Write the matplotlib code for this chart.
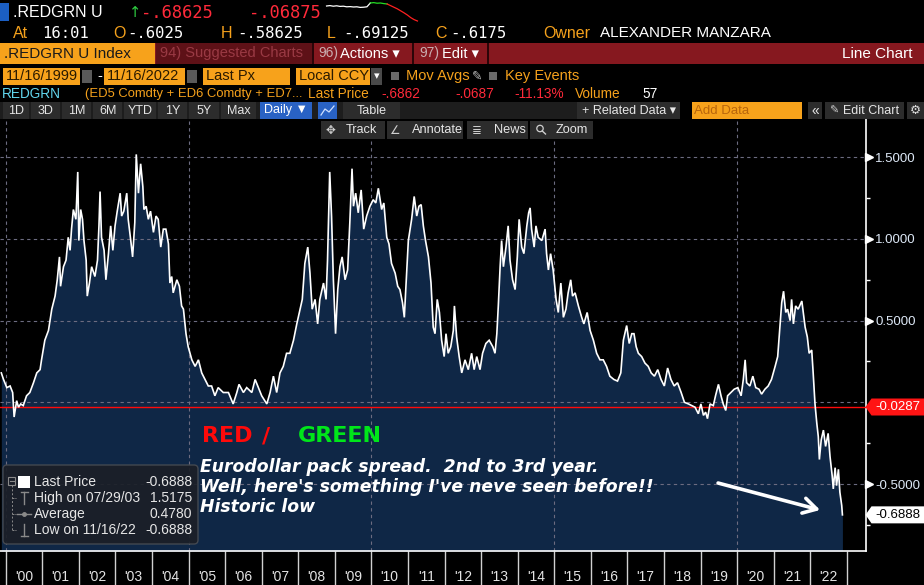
import matplotlib
matplotlib.use('Agg')
import matplotlib.pyplot as plt
from matplotlib.patches import Rectangle, Polygon, FancyBboxPatch, Circle
from matplotlib.transforms import blended_transform_factory

# ---------------- data ----------------
dates = [
    1999.88, 1999.94, 2000.03, 2000.12, 2000.19, 2000.23, 2000.30, 2000.35, 2000.41, 2000.48,
    2000.57, 2000.66, 2000.76, 2000.85, 2000.94, 2000.98, 2001.07, 2001.17, 2001.26, 2001.35,
    2001.41, 2001.47, 2001.50, 2001.58, 2001.65, 2001.71, 2001.76, 2001.80, 2001.85, 2001.92,
    2001.97, 2002.00, 2002.05, 2002.10, 2002.14, 2002.20, 2002.23, 2002.29, 2002.35, 2002.44,
    2002.51, 2002.55, 2002.58, 2002.62, 2002.69, 2002.74, 2002.81, 2002.87, 2002.93, 2002.99,
    2003.05, 2003.13, 2003.17, 2003.23, 2003.31, 2003.35, 2003.42, 2003.47, 2003.53, 2003.57,
    2003.63, 2003.69, 2003.75, 2003.78, 2003.84, 2003.90, 2003.96, 2004.04, 2004.11, 2004.17,
    2004.24, 2004.31, 2004.38, 2004.45, 2004.49, 2004.54, 2004.58, 2004.68, 2004.75, 2004.81,
    2004.86, 2004.93, 2004.99, 2005.09, 2005.18, 2005.27, 2005.36, 2005.45, 2005.54, 2005.63,
    2005.72, 2005.81,
    2005.95, 2006.09, 2006.22, 2006.32, 2006.38, 2006.50, 2006.59, 2006.73, 2006.82, 2006.91,
    2007.00, 2007.14, 2007.23, 2007.32, 2007.41, 2007.50, 2007.59, 2007.68, 2007.77, 2007.87,
    2007.96, 2008.05, 2008.11, 2008.18, 2008.26, 2008.32, 2008.38, 2008.46, 2008.53, 2008.59,
    2008.69, 2008.76, 2008.80, 2008.86, 2008.91, 2008.96, 2009.02, 2009.08, 2009.14, 2009.20,
    2009.28, 2009.35, 2009.41, 2009.47, 2009.51, 2009.57, 2009.64, 2009.72, 2009.79, 2009.87,
    2009.96, 2010.05, 2010.12, 2010.19, 2010.28, 2010.34, 2010.42, 2010.48, 2010.55, 2010.65,
    2010.72, 2010.78, 2010.85, 2010.90, 2010.95, 2011.01, 2011.10, 2011.17, 2011.24, 2011.30,
    2011.36, 2011.42, 2011.48, 2011.56, 2011.63, 2011.69,
    2011.74, 2011.80, 2011.86, 2011.92, 2011.99, 2012.04, 2012.10, 2012.17, 2012.24, 2012.27,
    2012.33, 2012.40, 2012.47, 2012.56, 2012.65, 2012.74, 2012.81, 2012.88, 2012.97, 2013.04,
    2013.13, 2013.22, 2013.32, 2013.38, 2013.43, 2013.47, 2013.52, 2013.56, 2013.61, 2013.68,
    2013.74, 2013.79, 2013.86, 2013.93, 2013.99, 2014.04, 2014.11, 2014.17, 2014.25, 2014.30,
    2014.34, 2014.38, 2014.45, 2014.50, 2014.56, 2014.66, 2014.75, 2014.79, 2014.84, 2014.90,
    2014.97, 2015.05, 2015.11, 2015.18, 2015.25, 2015.32, 2015.38, 2015.45, 2015.50, 2015.57,
    2015.66, 2015.75, 2015.81, 2015.90, 2015.98, 2016.07, 2016.16, 2016.25, 2016.34, 2016.43,
    2016.52, 2016.63, 2016.73, 2016.82, 2016.89, 2016.98, 2017.05, 2017.12, 2017.18, 2017.24,
    2017.30, 2017.39, 2017.48, 2017.57,
    2017.65, 2017.74, 2017.83, 2017.92, 2018.01, 2018.10, 2018.19, 2018.28, 2018.37, 2018.47,
    2018.56, 2018.67, 2018.76, 2018.85, 2018.94, 2019.01, 2019.08, 2019.14, 2019.19, 2019.26,
    2019.35, 2019.41, 2019.49, 2019.56, 2019.62, 2019.69, 2019.74, 2019.83, 2019.92, 2020.02,
    2020.11, 2020.17, 2020.22, 2020.26, 2020.35, 2020.43, 2020.51, 2020.60, 2020.67, 2020.76,
    2020.85, 2020.94, 2021.04, 2021.11, 2021.17, 2021.22, 2021.27, 2021.33, 2021.38, 2021.45,
    2021.49, 2021.54, 2021.60, 2021.67, 2021.77, 2021.81, 2021.86, 2021.92, 2021.97, 2022.04,
    2022.08, 2022.13, 2022.18,
    2022.22, 2022.25, 2022.30, 2022.36, 2022.42, 2022.49, 2022.54, 2022.60, 2022.63, 2022.68,
    2022.72, 2022.77, 2022.81, 2022.86, 2022.88,
]
values = [
    0.18, 0.14, 0.09, 0.10, 0.06, -0.09, 0.01, -0.03, -0.01, -0.02,
    0.04, 0.06, 0.12, 0.18, 0.20, 0.26, 0.38, 0.44, 0.57, 0.65,
    0.75, 0.89, 0.71, 0.83, 0.87, 1.01, 0.93, 1.06, 1.18, 1.12,
    1.41, 0.99, 1.18, 1.12, 0.99, 0.87, 0.65, 0.73, 0.83, 0.77,
    0.87, 1.08, 1.29, 1.01, 0.93, 0.75, 0.91, 1.08, 0.93, 1.08,
    1.17, 1.28, 1.14, 1.17, 1.28, 1.12, 0.99, 0.89, 1.10, 1.5175,
    1.28, 1.46, 1.32, 1.18, 1.20, 1.12, 1.17, 1.04, 1.14, 1.12,
    0.95, 1.06, 1.06, 0.97, 0.73, 0.77, 0.67, 0.75, 0.71, 0.59,
    0.57, 0.42, 0.34, 0.26, 0.22, 0.26, 0.18, 0.14, 0.10, 0.10,
    0.04, 0.09,
    0.06, 0.06, -0.01, 0.06, 0.11, 0.06, 0.09, 0.06, 0.14, 0.09,
    0.04, -0.01, 0.06, 0.16, 0.06, 0.18, 0.22, 0.30, 0.30, 0.38,
    0.48, 0.57, 0.63, 0.85, 0.95, 0.79, 0.57, 0.63, 0.48, 0.63,
    0.73, 0.63, 0.87, 1.41, 1.14, 0.75, 0.42, 0.69, 0.83, 0.89,
    0.75, 0.81, 1.10, 1.43, 1.20, 1.28, 1.16, 1.30, 1.06, 1.14,
    1.20, 1.24, 1.22, 1.31, 1.18, 1.22, 1.01, 0.97, 0.85, 0.79,
    0.71, 0.69, 0.61, 0.52, 0.73, 0.99, 1.12, 1.26, 1.14, 1.20,
    1.21, 1.08, 0.99, 0.89, 0.73, 0.46,
    0.42, 0.63, 0.55, 0.38, 0.28, 0.42, 0.30, 0.34, 0.44, 0.59,
    0.40, 0.28, 0.18, 0.26, 0.20, 0.30, 0.20, 0.28, 0.20, 0.30,
    0.36, 0.38, 0.34, 0.30, 0.42, 0.59, 0.83, 0.99, 0.83, 0.95,
    1.08, 0.87, 0.75, 0.69, 0.89, 1.12, 0.95, 0.91, 1.08, 1.16,
    1.19, 1.06, 0.95, 1.08, 1.01, 0.99, 1.06, 0.91, 0.81, 0.91,
    0.81, 0.63, 0.55, 0.73, 0.52, 0.57, 0.67, 0.75, 0.65, 0.67,
    0.59, 0.52, 0.48, 0.55, 0.44, 0.38, 0.30, 0.26, 0.26, 0.22,
    0.16, 0.14, 0.13, 0.18, 0.38, 0.47, 0.36, 0.42, 0.42, 0.34,
    0.30, 0.28, 0.24, 0.22,
    0.18, 0.16, 0.20, 0.14, 0.10, 0.21, 0.14, 0.10, 0.12, 0.06,
    0.00, -0.01, -0.02, -0.03, -0.07, -0.01, -0.08, -0.06, -0.10, -0.01,
    -0.02, 0.04, 0.11, 0.04, -0.01, -0.05, 0.04, 0.06, 0.08, 0.09,
    0.04, 0.14, 0.26, 0.12, 0.10, 0.16, 0.09, 0.08, 0.05, 0.08,
    0.10, 0.14, 0.22, 0.28, 0.46, 0.61, 0.68, 0.55, 0.57, 0.50,
    0.63, 0.48, 0.59, 0.57, 0.62, 0.55, 0.46, 0.40, 0.30, 0.32,
    0.18, -0.01, -0.13,
    -0.21, -0.35, -0.23, -0.17, -0.27, -0.19, -0.33, -0.45, -0.53, -0.40,
    -0.51, -0.41, -0.55, -0.63, -0.6888,
]
year_starts = list(range(2000, 2024))
year_labels = ["'%02d" % (y % 100) for y in range(2000, 2023)]
right_ticks = [1.5, 1.0, 0.5, -0.5]
right_minor = [1.25, 0.75, 0.25, -0.25, -0.75]
grid_y = [1.5, 1.0, 0.5, 0.0, -0.5]
grid_x = [2000, 2005, 2010, 2015, 2020]
last_line = -0.0287
last_value = -0.6888
legend_labels = ["Last Price", "High on 07/29/03", "Average", "Low on 11/16/22"]
legend_values = ["-0.6888", "1.5175", "0.4780", "-0.6888"]
arrow_from = (2019.48, -0.494)
arrow_to = (2022.27, -0.659)
spark_white = [0.80, 0.82, 0.79, 0.81, 0.78, 0.79, 0.76, 0.77, 0.75, 0.76, 0.73, 0.74, 0.76, 0.95]
spark_green = [0.95, 0.97, 0.94, 0.95, 0.92, 0.90]
spark_red = [0.90, 0.82, 0.74, 0.66, 0.56, 0.46, 0.35, 0.22, 0.12, 0.05]

# ---------------- style ----------------
plt.rcParams['font.family'] = ['Liberation Sans', 'DejaVu Sans']
ORANGE = '#f5a11c'
BOXOR = '#f7a21b'
RED = '#ff2a3a'
FILL = '#0f2746'
GRID = '#6c6c80'
BTN = '#2c2c2c'
MONO = ['DejaVu Sans Mono']

W, H = 924, 585
fig = plt.figure(figsize=(W / 100, H / 100), dpi=100, facecolor='black')

PL, PR, PB, PT = 0, 865.5, 551, 119
ax = fig.add_axes([PL / W, 1 - PB / H, (PR - PL) / W, (PB - PT) / H])
ax.set_facecolor('black')
X0, X1 = 1999.844, 2023.511
Y0, Y1 = -0.910, 1.734
ax.set_xlim(X0, X1)
ax.set_ylim(Y0, Y1)

ax.fill_between(dates, values, Y0, color=FILL, lw=0, zorder=1)
for gy in grid_y:
    ax.axhline(gy, color=GRID, lw=0.8, ls=(0, (3, 3)), zorder=2)
for gx in grid_x:
    ax.axvline(gx, color=GRID, lw=0.8, ls=(0, (3, 3)), zorder=2)
ax.axhline(last_line, color='#ff0a0a', lw=1.0, zorder=3)
ax.plot(dates, values, color='white', lw=1.2, zorder=4, solid_joinstyle='miter')

for s in ['top', 'left']:
    ax.spines[s].set_visible(False)
for s in ['right', 'bottom']:
    ax.spines[s].set_color('white')
    ax.spines[s].set_linewidth(1.2)

ax.set_xticks([y + 0.5 for y in range(2000, 2023)], year_labels)
ax.set_xticks(year_starts, minor=True)
ax.tick_params(axis='x', which='major', length=0, pad=14, labelcolor='#e4e4e4', labelsize=10)
ax.tick_params(axis='x', which='minor', length=24.5, width=1, color='#d0d0d0', direction='out')

ax.yaxis.tick_right()
ax.set_yticks(right_ticks, ['%.4f' % v for v in right_ticks])
ax.set_yticks(right_minor, minor=True)
ax.tick_params(axis='y', which='major', length=0, pad=7, labelcolor='#dde8f6', labelsize=9.5)
ax.tick_params(axis='y', which='minor', length=3, width=1, color='white', direction='out')

trans = blended_transform_factory(ax.transAxes, ax.transData)
ax.plot([1.0045] * len(right_ticks), right_ticks, ls='none', marker='>', ms=5.5,
        color='white', transform=trans, clip_on=False, zorder=6)

# price tags
def tag(val, fc, tc):
    hh = 8.5 / 163.35
    xr = W / PR
    xs = 1.0 + 6 / PR
    poly = Polygon([(1.0, val), (xs, val + hh), (xr, val + hh), (xr, val - hh), (xs, val - hh)],
                   closed=True, transform=trans, fc=fc, ec='none', clip_on=False, zorder=7)
    ax.add_patch(poly)
    ax.text(1.0 + 10 / PR, val, '%.4f' % val, transform=trans, color=tc, fontsize=9.5,
            va='center', ha='left', clip_on=False, zorder=8)

tag(last_line, '#ff1414', 'white')
tag(last_value, 'white', 'black')

ax.annotate('', xy=arrow_to, xytext=arrow_from,
            arrowprops=dict(arrowstyle='->,head_length=0.95,head_width=0.55', color='white',
                            lw=2.6, shrinkA=0, shrinkB=0), zorder=9)

# ---------------- overlay (header, legend, notes) ----------------
ov = fig.add_axes([0, 0, 1, 1])
ov.set_xlim(0, W)
ov.set_ylim(H, 0)
ov.axis('off')
ov.patch.set_alpha(0)
ov.set_zorder(5)

def box(x0, y0, x1, y1, c, **kw):
    ov.add_patch(Rectangle((x0, y0), x1 - x0, y1 - y0, facecolor=c, edgecolor='none', **kw))

def t(x, y, s, c, size=10.5, ha='left', **kw):
    ov.text(x, y, s, color=c, fontsize=size, ha=ha, va='center', **kw)

# row 1
box(0, 3, 9, 21, '#1b5fc4')
t(13, 12.5, '.REDGRN U', 'white', 11.5)
t(129, 12.5, '↑', '#2ecc40', 10.5, family=['DejaVu Sans'])
t(141, 12.5, '-.68625', RED, 12.3, family=MONO)
t(249, 12.5, '-.06875', RED, 12.3, family=MONO)
axs = fig.add_axes([322 / W, 1 - 22 / H, 100 / W, 20 / H])
axs.axis('off')
n1, n2, n3 = len(spark_white), len(spark_green), len(spark_red)
axs.plot(range(n1), spark_white, color='white', lw=0.9)
axs.plot(range(n1 - 1, n1 - 1 + n2), [spark_white[-1]] + spark_green[1:], color='#22dd22', lw=0.9)
axs.plot(range(n1 + n2 - 2, n1 + n2 - 2 + n3), [spark_green[-1]] + spark_red[1:], color='#ff2020', lw=0.9)
axs.set_ylim(0, 1)

# row 2
y2 = 33
for x, s, c in [(13, 'At', ORANGE), (113, 'O', ORANGE), (221, 'H', ORANGE), (327, 'L', ORANGE),
                (435, 'C', ORANGE), (543, 'Owner', ORANGE)]:
    t(x, y2, s, c, 11.5)
for x, s in [(42, '16:01'), (127, '-.6025'), (237, '-.58625'), (343, '-.69125'), (450, '-.6175')]:
    t(x, y2, s, 'white', 11.2, family=MONO)
t(600, y2, 'ALEXANDER MANZARA', 'white', 11)

# row 3
box(0, 43, W, 64, '#86181f')
box(0, 43, 155, 64, BOXOR)
t(4, 53.5, '.REDGRN U Index', '#1a1a1a', 11)
box(156, 43, 312, 64, '#5e1117')
t(160, 53.5, '94) Suggested Charts', '#9a3a44', 10.5)
box(312, 43, 314, 64, '#2a0508')
t(318, 53.5, '96)', '#c9aeb0', 10)
t(340, 53.5, 'Actions ▾', 'white', 10.5, family=['Liberation Sans', 'DejaVu Sans'])
box(412, 43, 414, 64, '#2a0508')
t(419, 53.5, '97)', '#c9aeb0', 10)
t(442, 53.5, 'Edit ▾', 'white', 10.5, family=['Liberation Sans', 'DejaVu Sans'])
box(487, 43, 489, 64, '#2a0508')
t(913, 53.5, 'Line Chart', 'white', 11, ha='right')

# row 4
y4 = 76
DK = '#2a1a00'
box(3, 68, 80, 85, BOXOR); t(6, y4, '11/16/1999', DK, 10.5)
box(82, 70, 92, 83, '#5a5a5a')
t(97, y4, '-', 'white', 10.5)
box(104, 68, 185, 85, BOXOR); t(107, y4, '11/16/2022', DK, 10.5)
box(187, 70, 197, 83, '#5a5a5a')
box(203, 68, 290, 85, BOXOR); t(206, y4, 'Last Px', DK, 10.5)
box(296, 68, 370, 85, BOXOR); t(299, y4, 'Local CCY', DK, 10.5)
box(371, 68, 382, 85, '#4a4a4a'); t(376.5, y4, '▾', 'white', 8, ha='center', family=['DejaVu Sans'])
box(391, 72, 399, 80, '#6a6a6a')
t(406, y4, 'Mov Avgs', ORANGE, 10.5)
t(472, y4, '✎', '#bbbbbb', 9, family=['DejaVu Sans'])
box(489, 72, 497, 80, '#6a6a6a')
t(505, y4, 'Key Events', ORANGE, 10.5)

# row 5
y5 = 94
t(2, y5, 'REDGRN', '#62d6ee', 9.8)
t(85, y5, '(ED5 Comdty + ED6 Comdty + ED7...', ORANGE, 9.4)
t(308, y5, 'Last Price', ORANGE, 9.8)
t(381, y5, '-.6862', RED, 9.8)
t(455, y5, '-.0687', RED, 9.8)
t(514, y5, '-11.13%', RED, 9.8)
t(575, y5, 'Volume', ORANGE, 9.8)
t(642, y5, '57', 'white', 9.8)

# row 6
y6 = 110.5
box(0, 102, 577, 119, '#1d1d1d')
for lab, a, b in [('1D', 3, 30), ('3D', 31, 61), ('1M', 62, 92), ('6M', 93, 123), ('YTD', 124, 157),
                  ('1Y', 158, 188), ('5Y', 189, 220), ('Max', 221, 257)]:
    box(a, 102, b - 1, 119, BTN)
    t((a + b) / 2, y6, lab, '#e6e6e6', 9, ha='center')
box(260, 102, 312, 119, '#2962c4')
t(286, y6, 'Daily ▼', 'white', 9, ha='center', family=['Liberation Sans', 'DejaVu Sans'])
box(318, 102, 337, 119, '#2962c4')
ov.plot([321, 325, 329, 334], [115, 109, 112, 106], color='#cfe0ff', lw=0.9)
box(343, 102, 400, 119, BTN)
t(372, y6, 'Table', '#e6e6e6', 9, ha='center')
box(577, 102, 680, 119, BTN)
t(582, y6, '+ Related Data ▾', '#e6e6e6', 9, family=['Liberation Sans', 'DejaVu Sans'])
box(692, 102, 802, 119, BOXOR)
t(694, y6, 'Add Data', '#b8650c', 9.5)
box(808, 102, 822, 119, BTN)
t(815, y6, '«', '#e6e6e6', 10, ha='center')
box(825, 102, 904, 119, BTN)
t(829, y6, '✎', '#cccccc', 8, family=['DejaVu Sans'])
t(843, y6, 'Edit Chart', '#e6e6e6', 9)
box(907, 102, 924, 119, BTN)
t(915, y6, '⚙', '#dddddd', 9, ha='center', family=['DejaVu Sans'])

# row 7
y7 = 130
for a, b in [(321, 385), (387, 463), (467, 528), (530, 593)]:
    box(a, 121, b, 139, BTN)
t(330, y7, '✥', '#cfcfcf', 8.5, ha='center', family=['DejaVu Sans'])
t(346, y7, 'Track', '#e6e6e6', 9.2)
t(395, y7, '∠', '#cfcfcf', 8.5, ha='center', family=['DejaVu Sans'])
t(412, y7, 'Annotate', '#e6e6e6', 9.2)
t(477, y7, '≣', '#cfcfcf', 8.5, ha='center', family=['DejaVu Sans'])
t(494, y7, 'News', '#e6e6e6', 9.2)
ov.add_patch(Circle((540, 128.5), 3.2, fill=False, ec='#cfcfcf', lw=0.9))
ov.plot([542.3, 545.5], [131, 134], color='#cfcfcf', lw=1.0)
t(556, y7, 'Zoom', '#e6e6e6', 9.2)

# legend
ov.add_patch(FancyBboxPatch((3, 465), 195, 79, boxstyle='round,pad=0,rounding_size=4',
                            fc='#1b1f27', ec='#474b52', lw=1.0, alpha=0.92))
LG = '#8a8a8a'
ov.add_patch(Rectangle((8, 477), 7, 8, fill=False, ec=LG, lw=0.8))
ov.plot([9.5, 13.5], [481, 481], color=LG, lw=0.8)
ov.plot([11.5, 11.5], [485, 530], color=LG, lw=0.7, ls=(0, (2, 2)))
for yy in [498, 514, 530]:
    ov.plot([11.5, 15.5], [yy, yy], color=LG, lw=0.7, ls=(0, (2, 1)))
box(18, 476, 30, 488, 'white')
ov.plot([24, 24], [492, 504], color=LG, lw=1.0)
ov.plot([20.5, 27.5], [492, 492], color=LG, lw=1.0)
ov.plot([17, 31], [514, 514], color=LG, lw=1.0)
ov.plot([24], [514], marker='o', ms=2.5, color=LG)
ov.plot([24, 24], [524, 536], color=LG, lw=1.0)
ov.plot([20.5, 27.5], [536, 536], color=LG, lw=1.0)
for i, (lab, val) in enumerate(zip(legend_labels, legend_values)):
    yy = 482 + 16 * i
    t(34, yy, lab, '#e6e6e6', 10)
    t(192, yy, val, '#e6e6e6', 10, ha='right')

# notes
t(202, 436, 'RED', '#ff0a0a', 16, fontweight='bold', family=['DejaVu Sans'])
t(262, 436, '/', '#ff0a0a', 16, fontweight='bold', family=['DejaVu Sans'])
t(298, 436, 'GREEN', '#00e61a', 16, fontweight='bold', family=['DejaVu Sans'])
notes = ["Eurodollar pack spread.  2nd to 3rd year.",
         "Well, here's something I've neve seen before!!",
         "Historic low"]
for i, s in enumerate(notes):
    t(200, 466.5 + 20 * i, s, 'white', 12.4, fontweight='bold', fontstyle='italic',
      family=['DejaVu Sans'])

fig.savefig('out.png', dpi=100, facecolor='black')
